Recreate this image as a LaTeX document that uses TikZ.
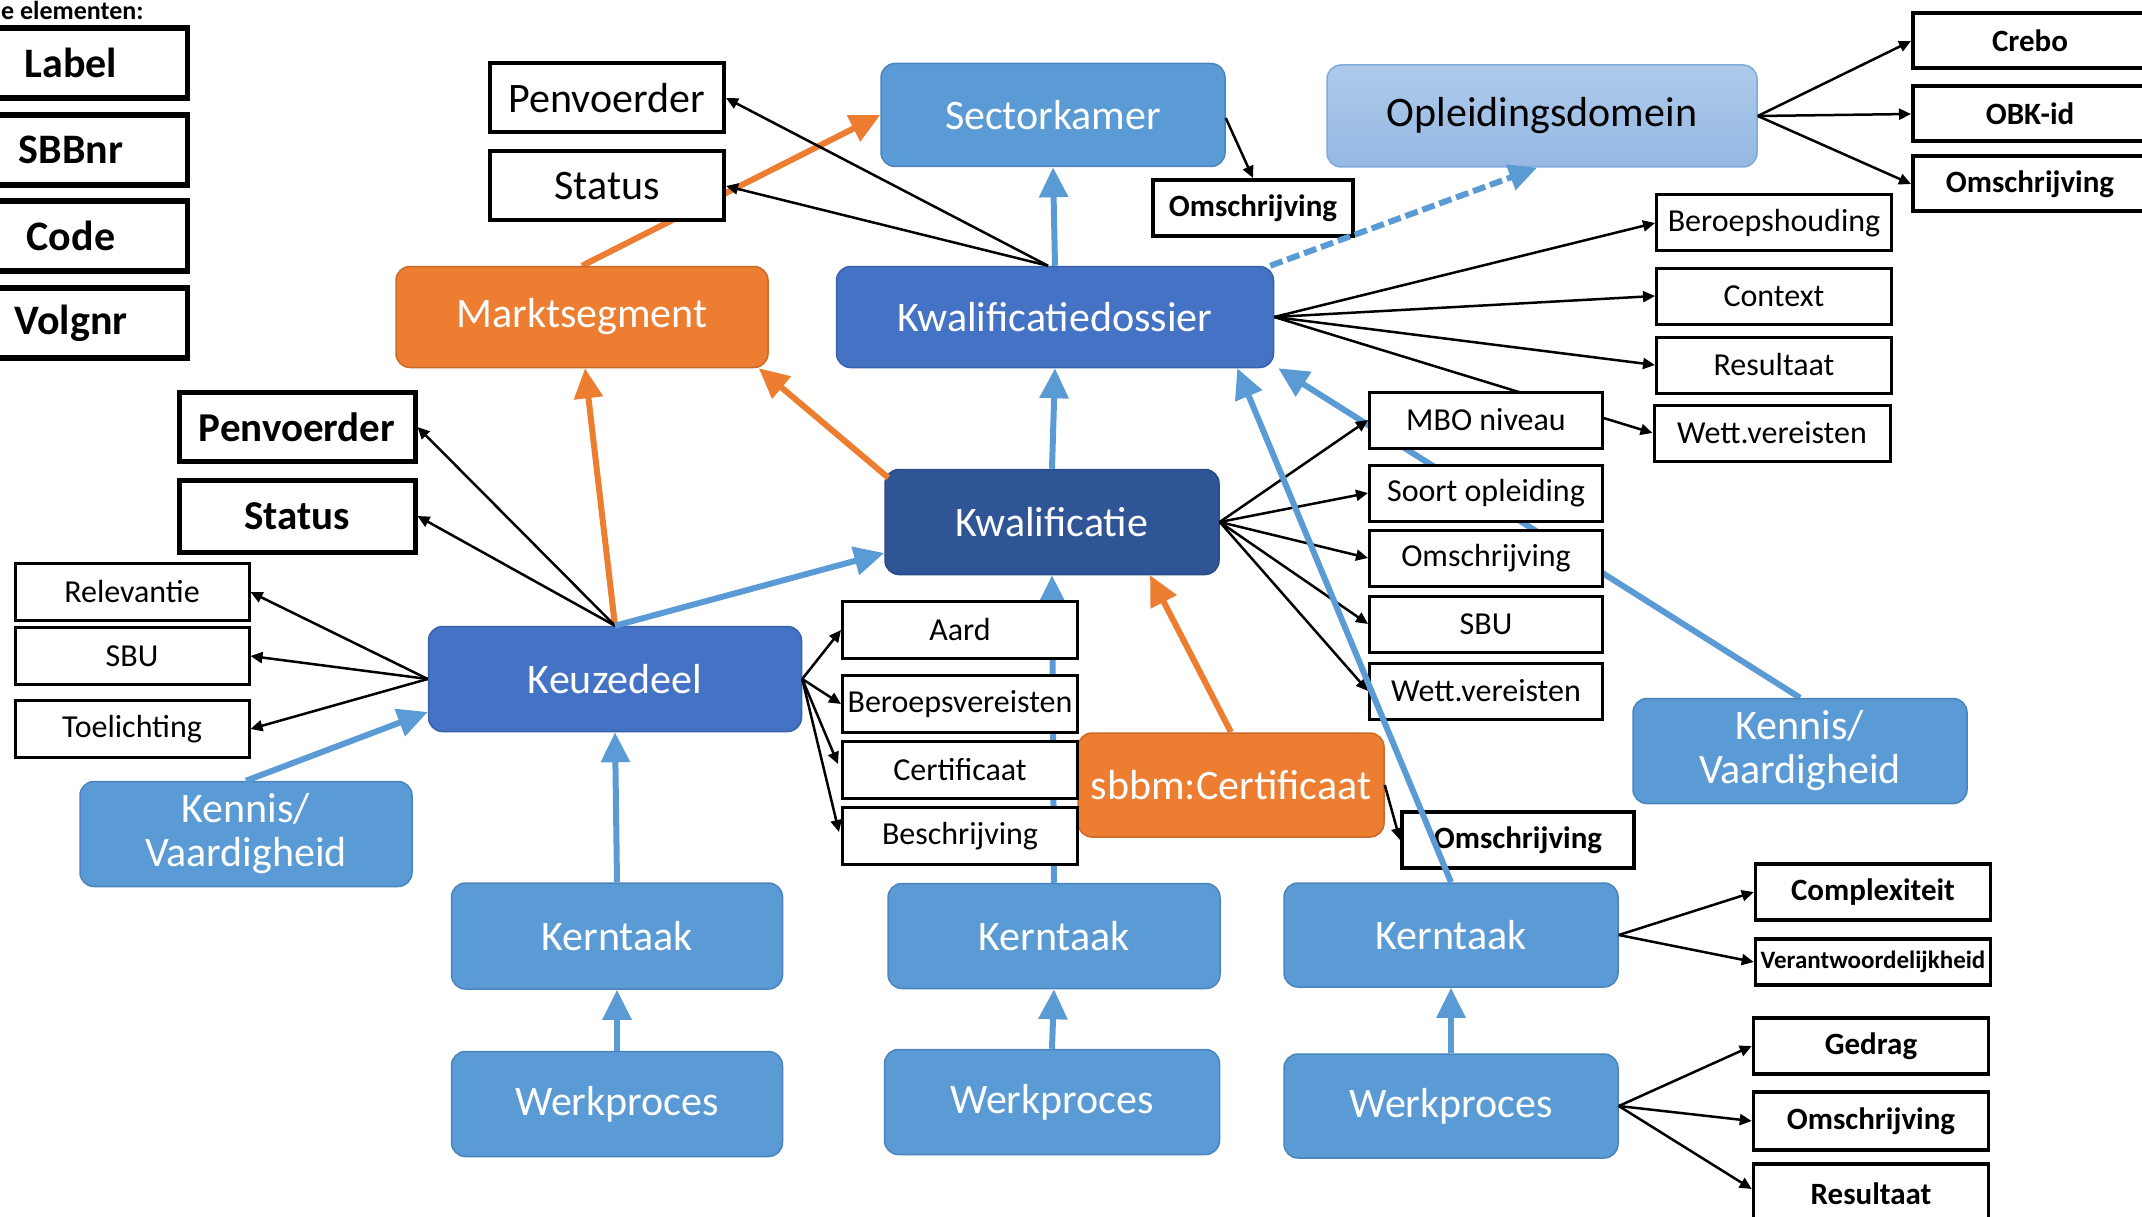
\documentclass[tikz,border=0pt]{standalone}
\usepackage{fontspec}
\setmainfont{Carlito}
\usetikzlibrary{arrows.meta,backgrounds,calc}
\definecolor{cblue}{HTML}{5B9BD5}
\definecolor{cblueb}{HTML}{4A84BC}
\definecolor{cmid}{HTML}{4472C4}
\definecolor{cmidb}{HTML}{3A62AC}
\definecolor{cdark}{HTML}{2F5597}
\definecolor{cdarkb}{HTML}{294B86}
\definecolor{corange}{HTML}{ED7D31}
\definecolor{corangeb}{HTML}{C96A28}
\definecolor{clttop}{HTML}{ADCAEA}
\definecolor{cltbot}{HTML}{95B8E3}
\definecolor{cltb}{HTML}{80AADC}
\begin{document}
\begin{tikzpicture}[x=1pt,y=-1pt,
  mainbox/.style={rounded corners=14pt, minimum width=334pt, minimum height=104pt, inner sep=0pt, line width=1.5pt, text=white, font=\fontsize{42}{44}\selectfont, align=center},
  bluebox/.style={mainbox, fill=cblue, draw=cblueb},
  midbox/.style={mainbox, fill=cmid, draw=cmidb},
  darkbox/.style={mainbox, fill=cdark, draw=cdarkb},
  orangebox/.style={mainbox, fill=corange, draw=corangeb},
  lightbox/.style={mainbox, top color=clttop, bottom color=cltbot, draw=cltb, text=black},
  attr/.style={draw=black, fill=white, line width=3pt, minimum width=235pt, minimum height=56pt, inner sep=0pt, font=\fontsize{32}{36}\selectfont},
  battr/.style={attr, line width=4pt, font=\fontsize{31}{36}\selectfont\bfseries},
  legendbox/.style={draw=black, fill=white, line width=5.5pt, minimum width=233pt, minimum height=70pt, inner sep=0pt, font=\fontsize{42}{46}\selectfont\bfseries},
  blk/.style={draw=black, line width=2.5pt, -{Triangle[length=12pt,width=11pt]}},
  barr/.style={draw=cblue, line width=6pt, -{Triangle[length=30pt,width=28pt]}},
  oarr/.style={draw=corange, line width=6pt, -{Triangle[length=30pt,width=28pt]}},
  bdash/.style={draw=cblue, line width=6pt, dash pattern=on 13pt off 5pt, -{Triangle[length=28pt,width=26pt]}}
]
\useasboundingbox (0,0) rectangle (2142,1217);
\clip (0,0) rectangle (2142,1217);

% legend
\node[anchor=base west, font=\fontsize{26}{30}\selectfont\bfseries, inner sep=0pt] (legtitle) at (1,20) {e elementen:};
\node[legendbox] (lg1) at (71,63) {Label};
\node[legendbox] (lg2) at (71,150) {SBBnr};
\node[legendbox] (lg3) at (71,236) {Code};
\node[legendbox] (lg4) at (71,323) {Volgnr};

% main nodes
\node[bluebox] (sector) at (1053,115) [minimum width=344pt, minimum height=103pt] {Sectorkamer};
\node[lightbox] (opl) at (1542,116) [minimum width=430pt, minimum height=102pt] {Opleidingsdomein};
\node[orangebox] (markt) at (582,317) [minimum width=372pt, minimum height=101pt] {Marktsegment};
\node[midbox] (kd) at (1055,317) [minimum width=437pt, minimum height=101pt] {Kwalificatiedossier};
\node[darkbox] (kwal) at (1052,522) [minimum height=105pt] {Kwalificatie};
\node[midbox] (keuz) at (615,679) [minimum width=373pt, minimum height=105pt] {Keuzedeel};
\node[orangebox] (sbbm) at (1231,785) [minimum width=306pt, minimum height=104pt] {sbbm:Certificaat};
\node[bluebox] (kennisL) at (246,834) [minimum width=332pt, minimum height=105pt] {Kennis/\\Vaardigheid};
\node[bluebox] (kennisR) at (1800,751) [minimum height=105pt] {Kennis/\\Vaardigheid};
\node[bluebox] (kern1) at (617,936) [minimum width=331pt, minimum height=106pt] {Kerntaak};
\node[bluebox] (kern2) at (1054,936) [minimum width=332pt, minimum height=105pt] {Kerntaak};
\node[bluebox] (kern3) at (1451,935) {Kerntaak};
\node[bluebox] (werk1) at (617,1104) [minimum width=331pt, minimum height=105pt] {Werkproces};
\node[bluebox] (werk2) at (1052,1102) [minimum width=335pt, minimum height=105pt] {Werkproces};
\node[bluebox] (werk3) at (1451,1106) {Werkproces};

% attribute boxes
\node[attr, line width=4pt, font=\fontsize{42}{46}\selectfont] (pen1) at (607,98) [minimum width=234pt, minimum height=69pt] {Penvoerder};
\node[attr, line width=4pt, font=\fontsize{42}{46}\selectfont] (stat1) at (607,186) [minimum width=234pt, minimum height=69pt] {Status};
\node[battr] (omsch1) at (1253,208) [minimum width=200pt] {Omschrijving};
\node[battr] (crebo) at (2030,41) [minimum width=234pt, minimum height=55pt] {Crebo};
\node[battr] (obk) at (2030,114) [minimum width=234pt, minimum height=55pt] {OBK-id};
\node[battr] (omsch2) at (2030,184) [minimum width=234pt, minimum height=55pt] {Omschrijving};
\node[attr] (beroeps) at (1774,223) {Beroepshouding};
\node[attr] (context) at (1774,296) {Context};
\node[attr] (result1) at (1774,365) {Resultaat};
\node[attr] (wett1) at (1772,433) [minimum width=236pt] {Wett.vereisten};
\node[battr, line width=5pt, font=\fontsize{41}{46}\selectfont\bfseries] (pen2) at (297,427) [minimum width=236pt, minimum height=69pt] {Penvoerder};
\node[battr, line width=5pt, font=\fontsize{41}{46}\selectfont\bfseries] (stat2) at (297,516) [minimum width=236pt, minimum height=72pt] {Status};
\node[attr] (mbo) at (1486,420) [minimum width=233pt] {MBO niveau};
\node[attr] (soort) at (1486,493) [minimum width=233pt] {Soort opleiding};
\node[attr] (omsch3) at (1486,558) [minimum width=233pt] {Omschrijving};
\node[attr] (sbu1) at (1486,624) [minimum width=233pt] {SBU};
\node[attr] (wett2) at (1486,691) [minimum width=233pt] {Wett.vereisten};
\node[attr] (relev) at (132,592) [minimum width=234pt, minimum height=57pt] {Relevantie};
\node[attr] (sbu2) at (132,656) [minimum width=234pt, minimum height=57pt] {SBU};
\node[attr] (toel) at (132,729) [minimum width=234pt, minimum height=57pt] {Toelichting};
\node[attr] (aard) at (960,630) [minimum height=57pt] {Aard};
\node[attr] (beroepsv) at (960,704) [minimum height=57pt] {Beroepsvereisten};
\node[attr] (cert) at (960,770) [minimum height=57pt] {Certificaat};
\node[attr] (beschr) at (960,836) [minimum height=57pt] {Beschrijving};
\node[battr] (omsch4) at (1518,840) [minimum width=232pt] {Omschrijving};
\node[battr, line width=3.5pt] (compl) at (1873,892) {Complexiteit};
\node[battr, line width=3.5pt, font=\fontsize{25}{28}\selectfont\bfseries] (verant) at (1873,962) [minimum height=46pt] {Verantwoordelijkheid};
\node[battr, line width=3.5pt] (gedrag) at (1871,1046) {Gedrag};
\node[battr, line width=3.5pt] (omsch5) at (1871,1121) [minimum height=58pt] {Omschrijving};
\node[battr, line width=3.5pt] (result2) at (1871,1194) [minimum height=60pt] {Resultaat};

% background connectors (hidden behind boxes)
\begin{pgfonlayer}{background}
\draw[oarr] (markt.north) -- (sector.west);
\draw[barr] (kern2.north) -- (kwal.south);
\draw[blk] (kd.east) -- (wett1.west);
\draw[barr] (kennisR.north) -- ($(kd.south east)+(4,0)$);
\end{pgfonlayer}

% connectors
\draw[blk] ($(kd.north)+(-7,0)$) -- (pen1.east);
\draw[blk] ($(kd.north)+(-7,0)$) -- (stat1.east);
\draw[barr] (kd.north) -- (sector.south);
\draw[blk] ($(sector.east)+(0,3)$) -- (omsch1.north);
\draw[bdash] ($(kd.north east)+(-4,0)$) -- ($(opl.south)+(-5,0)$);
\draw[blk] (opl.east) -- (crebo.west);
\draw[blk] (opl.east) -- (obk.west);
\draw[blk] (opl.east) -- (omsch2.west);
\draw[blk] (kd.east) -- (beroeps.west);
\draw[blk] (kd.east) -- (context.west);
\draw[blk] (kd.east) -- (result1.west);
\draw[barr] (kwal.north) -- (kd.south);
\draw[oarr] ($(kwal.north west)+(4,9)$) -- ($(markt.south east)+(-10,0)$);
\draw[oarr] (keuz.north) -- ($(markt.south)+(3,0)$);
\draw[blk] (keuz.north) -- (pen2.east);
\draw[blk] (keuz.north) -- (stat2.east);
\draw[barr] (keuz.north) -- ($(kwal.west)+(0,31)$);
\draw[blk] (keuz.west) -- (relev.east);
\draw[blk] (keuz.west) -- (sbu2.east);
\draw[blk] (keuz.west) -- (toel.east);
\draw[barr] (kennisL.north) -- ($(keuz.west)+(0,33)$);
\draw[barr] (kern1.north) -- (keuz.south);
\draw[barr] (werk1.north) -- (kern1.south);
\draw[blk] (keuz.east) -- (aard.west);
\draw[blk] (keuz.east) -- (beroepsv.west);
\draw[blk] (keuz.east) -- ($(cert.west)+(-3,-6)$);
\draw[blk] (keuz.east) -- ($(beschr.west)+(-2,-4)$);
\draw[oarr] (sbbm.north) -- ($(kwal.south)+(98,0)$);
\draw[blk] (kwal.east) -- (mbo.west);
\draw[blk] (kwal.east) -- (soort.west);
\draw[blk] (kwal.east) -- (omsch3.west);
\draw[blk] (kwal.east) -- (sbu1.west);
\draw[blk] (kwal.east) -- (wett2.west);
\draw[blk] (sbbm.east) -- (omsch4.west);
\draw[barr] (werk2.north) -- (kern2.south);
\draw[barr] (werk3.north) -- (kern3.south);
\draw[blk] (kern3.east) -- (compl.west);
\draw[blk] (kern3.east) -- (verant.west);
\draw[blk] (werk3.east) -- (gedrag.west);
\draw[blk] (werk3.east) -- (omsch5.west);
\draw[blk] (werk3.east) -- ($(result2.west)+(0,-5)$);
\draw[barr] (kern3.north) -- ($(kd.south east)+(-37,0)$);
\end{tikzpicture}
\end{document}
